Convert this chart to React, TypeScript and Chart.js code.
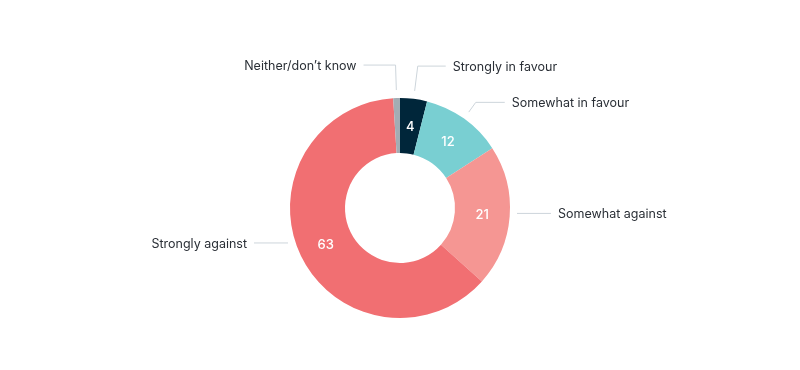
import React, { useEffect, useRef } from "react";
import { Chart, registerables } from "chart.js";

Chart.register(...registerables);

const categories = [
  "Strongly in favour",
  "Somewhat in favour",
  "Somewhat against",
  "Strongly against",
  "Neither/don\u2019t know",
];
const values = [4, 12, 21, 63, 1];
const colors = ["#00263a", "#79cfd2", "#f59693", "#f16f72", "#a3adb4"];

// label layout per slice (style only)
const labelLayouts = [
  { mode: "radial", elbowR: 143, lineLen: 28 },
  { mode: "radial", elbowR: 130, lineLen: 29 },
  { mode: "side", gap: 7, lineLen: 34 },
  { mode: "side", gap: 2, lineLen: 34 },
  { mode: "radial", elbowR: 143, lineLen: 32 },
];

const FONT = "Inter, 'Noto Sans', sans-serif";

const labelPlugin = {
  id: "pieLabels",
  afterDatasetsDraw(chart: any) {
    const ctx = chart.ctx;
    const meta = chart.getDatasetMeta(0);
    const data = chart.data.datasets[0].data as number[];
    const labels = chart.data.labels as string[];
    ctx.save();
    meta.data.forEach((arc: any, i: number) => {
      const { x, y, startAngle, endAngle, outerRadius, innerRadius } = arc.getProps(
        ["x", "y", "startAngle", "endAngle", "outerRadius", "innerRadius"],
        true
      );
      const mid = (startAngle + endAngle) / 2;
      const rMid = (outerRadius + innerRadius) / 2;
      const vx = x + Math.cos(mid) * rMid;
      const vy = y + Math.sin(mid) * rMid;
      // value label
      if (data[i] >= 2) {
        ctx.fillStyle = "#ffffff";
        ctx.font = `500 13px ${FONT}`;
        ctx.textAlign = "center";
        ctx.textBaseline = "middle";
        ctx.fillText(String(data[i]), vx, vy + 1);
      }
      // leader line + category label
      const lay: any = labelLayouts[i];
      const right = Math.cos(mid) >= 0;
      const dir = right ? 1 : -1;
      ctx.strokeStyle = "#cdd5db";
      ctx.lineWidth = 1;
      ctx.beginPath();
      let endX: number, endY: number;
      if (lay.mode === "radial") {
        const ax = x + Math.cos(mid) * (outerRadius + 8);
        const ay = y + Math.sin(mid) * (outerRadius + 8);
        const ex = x + Math.cos(mid) * lay.elbowR;
        const ey = y + Math.sin(mid) * lay.elbowR;
        ctx.moveTo(ax, ay);
        ctx.lineTo(ex, ey);
        endX = ex + dir * lay.lineLen;
        endY = ey;
        ctx.lineTo(endX, endY);
      } else {
        const sx = x + dir * (outerRadius + lay.gap);
        endX = sx + dir * lay.lineLen;
        endY = vy - 1;
        ctx.moveTo(sx, endY);
        ctx.lineTo(endX, endY);
      }
      ctx.stroke();
      ctx.fillStyle = "#2a2f36";
      ctx.font = `400 12.5px ${FONT}`;
      ctx.textAlign = right ? "left" : "right";
      ctx.textBaseline = "middle";
      ctx.fillText(labels[i], endX + dir * 7, endY + 1);
    });
    ctx.restore();
  },
};

export default function App() {
  const ref = useRef<HTMLCanvasElement | null>(null);
  useEffect(() => {
    if (!ref.current) return;
    const chart = new Chart(ref.current, {
      type: "doughnut",
      data: {
        labels: categories,
        datasets: [
          {
            data: values,
            backgroundColor: colors,
            borderWidth: 0,
          },
        ],
      },
      options: {
        responsive: false,
        animation: false,
        cutout: "50%",
        layout: { padding: { top: 98, bottom: 52, left: 0, right: 0 } },
        plugins: {
          legend: { display: false },
          tooltip: { enabled: false },
        },
      },
      plugins: [labelPlugin],
    });
    return () => chart.destroy();
  }, []);
  return (
    <div style={{ position: "fixed", left: 0, top: 0, width: 800, height: 370, background: "#fff" }}>
      <canvas ref={ref} width={800} height={370} style={{ width: 800, height: 370 }} />
    </div>
  );
}
